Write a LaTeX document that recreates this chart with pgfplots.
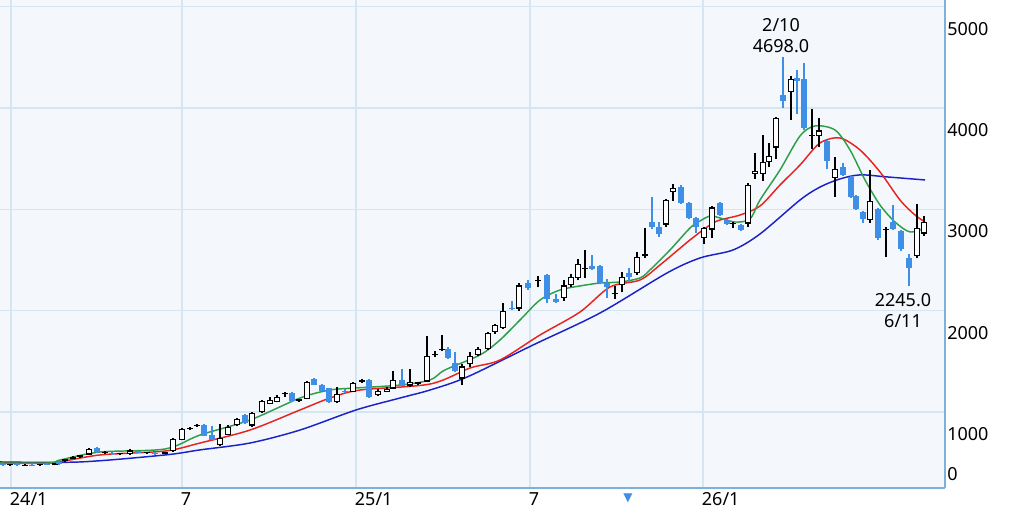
\documentclass[border=0pt]{standalone}
\usepackage{pgfplots}
\pgfplotsset{compat=1.18}
\usepackage{pgfplotstable}
\usepackage{fontspec}
\setmainfont{Noto Sans}
\newfontfamily\symfont{DejaVu Sans}
\definecolor{bgc}{HTML}{F4F8FC}
\definecolor{gridc}{HTML}{D5E6F3}
\definecolor{axc}{HTML}{7DB0DA}
\definecolor{dn}{HTML}{3F8FE6}
\definecolor{mag}{HTML}{2E9E48}
\definecolor{mar}{HTML}{E8231E}
\definecolor{mab}{HTML}{1A22C8}
\pgfplotstableread{
x o h l c
10 478 490 468 482
25 475 488 465 480
40 476 490 468 484
55 480 500 475 492
65 515 540 510 535
73 540 565 535 560
80 555 580 550 575
89 580 645 575 635
105 596 612 590 608
120 582 600 575 594
130 585 630 580 622
147 592 605 588 604
165 590 605 585 602
173 615 745 610 735
182 725 840 720 830
190 830 850 825 842
197 858 880 850 870
220 675 880 665 745
228 775 870 770 855
237 870 940 860 930
252 865 1000 855 990
262 1000 1120 990 1110
270 1080 1150 1075 1120
277 1100 1165 1095 1150
285 1174 1200 1150 1186
299 1112 1130 1100 1124
307 1130 1310 1125 1300
337 1100 1250 1090 1180
353 1200 1300 1195 1290
362 1300 1330 1290 1320
378 1170 1230 1160 1210
387 1200 1245 1195 1230
393 1230 1400 1225 1320
410 1260 1420 1250 1300
418 1280 1295 1270 1292
427 1300 1750 1295 1550
435 1560 1600 1545 1572
442 1610 1760 1600 1622
462 1330 1470 1270 1450
470 1470 1590 1440 1550
478 1560 1640 1550 1620
488 1620 1790 1615 1780
495 1790 1870 1770 1860
503 1830 2075 1820 2000
519 2020 2270 2000 2250
538 2294 2340 2230 2306
564 2125 2300 2100 2250
571 2250 2360 2230 2330
578 2320 2510 2300 2460
585 2414 2600 2320 2426
615 2164 2240 2120 2176
622 2250 2380 2180 2330
637 2370 2580 2350 2530
645 2544 2820 2520 2556
666 2850 3100 2830 3090
673 3170 3250 3080 3210
704 2720 2830 2660 2820
712 2800 3030 2720 3020
733 2854 2880 2820 2866
748 2860 3260 2830 3240
755 3350 3560 3300 3380
763 3350 3730 3280 3470
769 3470 3650 3420 3530
776 3610 3910 3500 3900
791 4160 4320 3880 4290
812 3724 3990 3600 3736
819 3720 3900 3620 3780
835 3310 3520 3120 3400
870 2890 3390 2870 3080
886 2794 2830 2530 2806
917 2540 3050 2520 2820
924 2760 2930 2740 2880
}\up
\pgfplotstableread{
x o h l c
3 485 495 470 478
17 482 492 472 475
32 480 492 470 476
47 484 495 475 480
59 505 512 480 490
97 640 650 600 605
112 600 605 580 585
138 615 620 595 600
155 598 602 580 585
204 870 878 760 765
212 775 860 720 725
245 970 985 885 890
292 1185 1195 1100 1110
314 1325 1335 1265 1270
322 1270 1280 1205 1210
329 1235 1240 1090 1100
345 1210 1225 1190 1195
369 1320 1330 1140 1150
402 1320 1420 1255 1260
448 1620 1640 1525 1530
455 1480 1590 1390 1400
512 2030 2100 2010 2020
528 2270 2300 2200 2220
547 2350 2360 2080 2120
556 2120 2160 2080 2090
592 2440 2550 2400 2410
600 2440 2450 2260 2270
607 2270 2310 2130 2230
629 2370 2420 2280 2330
652 2880 3120 2810 2830
659 2830 2880 2730 2760
681 3220 3240 3050 3060
689 3060 3070 2900 2910
696 2910 2920 2770 2830
720 3060 3070 2930 2940
727 2890 2900 2850 2860
741 2850 2860 2790 2800
783 4130 4500 4000 4070
797 4300 4380 3940 4270
804 4290 4440 3780 3800
827 3670 3680 3400 3480
843 3420 3460 3330 3340
851 3320 3330 3110 3120
856 3130 3140 2990 3000
863 2970 2980 2870 2900
878 3000 3010 2700 2720
893 2880 3040 2800 2810
901 2790 2800 2590 2610
909 2520 2560 2245 2420
}\dn
\begin{document}
\begin{tikzpicture}
\begin{axis}[
  scale only axis, width=708.75pt, height=366pt,
  xmin=0, xmax=945, ymin=250, ymax=5066,
  axis background/.style={fill=bgc},
  axis x line*=bottom, axis y line*=right,
  axis line style={axc, line width=1pt},
  x axis line style={-}, y axis line style={-},
  xtick={11,182,356,530,703},
  xticklabels={24/1,7,25/1,7,26/1},
  ytick={1000,2000,3000,4000,5000},
  yticklabel pos=right,
  grid=major, major grid style={gridc, line width=0.8pt},
  tick style={draw=none},
  xticklabel style={anchor=north west, inner sep=0pt, xshift=-1pt, yshift=-3.5pt, font=\fontsize{13.5}{16}\selectfont},
  yticklabel style={anchor=north west, inner sep=0pt, xshift=1.5pt, yshift=-11.5pt, font=\fontsize{13.5}{16}\selectfont},
  /pgf/number format/assume math mode=true,
  /pgf/number format/1000 sep={},
  clip=false,
]
% moving averages
\addplot[mab, line width=1.1pt, smooth, mark=none] coordinates {(0,507)(80,507)(165,576)(200,626)(250,694)(300,822)(356,1020)(400,1138)(430,1217)(467,1345)(533,1661)(600,1977)(667,2372)(700,2520)(733,2599)(760,2757)(800,3092)(820,3220)(840,3300)(860,3340)(887,3320)(925,3290)};
\addplot[mar, line width=1.1pt, smooth, mark=none] coordinates {(0,497)(50,497)(100,576)(165,615)(200,694)(250,822)(300,1020)(330,1138)(360,1217)(430,1276)(470,1434)(500,1513)(540,1760)(580,1987)(610,2234)(640,2303)(660,2451)(690,2698)(710,2846)(720,2895)(740,2944)(760,3033)(780,3240)(800,3438)(820,3655)(840,3704)(860,3586)(880,3369)(900,3092)(915,2944)(925,2875)};
\addplot[mag, line width=1.1pt, smooth, mark=none] coordinates {(0,497)(50,497)(60,526)(100,605)(165,635)(200,773)(250,921)(300,1138)(330,1217)(356,1237)(400,1266)(430,1316)(445,1415)(480,1563)(500,1711)(520,1908)(540,2105)(560,2204)(580,2244)(600,2273)(620,2283)(640,2323)(650,2402)(670,2599)(690,2816)(700,2885)(710,2934)(720,2915)(735,2875)(750,2905)(760,3092)(780,3389)(800,3724)(815,3823)(835,3783)(850,3586)(865,3290)(880,3043)(895,2875)(910,2777)(925,2816)};
% wicks
\addplot[mark=none, forget plot, draw=black, line width=0.8pt, -, quiver={u=0, v=\thisrow{h}-\thisrow{l}}]
  table[x=x, y=l] {\up};
\addplot[mark=none, forget plot, draw=dn, line width=0.8pt, -, quiver={u=0, v=\thisrow{h}-\thisrow{l}}]
  table[x=x, y=l] {\dn};
% bodies
\addplot[mark=none, forget plot, draw=black, line width=4pt, -, quiver={u=0, v=\thisrow{c}-\thisrow{o}}]
  table[x=x, y=o] {\up};
\addplot[mark=none, forget plot, draw=white, line width=2.4pt, -, quiver={u=0, v={max(\thisrow{c}-\thisrow{o}-24,0)}}]
  table[x=x, y expr=\thisrow{o}+12] {\up};
\addplot[mark=none, forget plot, draw=dn, line width=4pt, -, quiver={u=0, v=\thisrow{o}-\thisrow{c}}]
  table[x=x, y=c] {\dn};
\node[anchor=south, align=center, inner sep=0pt, font=\fontsize{13.5}{16}\selectfont] at (axis cs:781,4540) {2/10\\4698.0};
\node[anchor=north, align=center, inner sep=0pt, font=\fontsize{13.5}{16}\selectfont] at (axis cs:903,2175) {2245.0\\6/11};
\node[anchor=base west, inner sep=0pt, xshift=1.5pt, yshift=6pt, font=\fontsize{13.5}{16}\selectfont] at (axis cs:945,250) {0};
\node[inner sep=0pt, text=dn, font=\symfont\fontsize{9}{10}\selectfont] at (axis cs:628,150) {▼};
\end{axis}
\pgfresetboundingbox
\path (0,-19.5pt) rectangle (768pt,366pt);
\end{tikzpicture}
\end{document}
